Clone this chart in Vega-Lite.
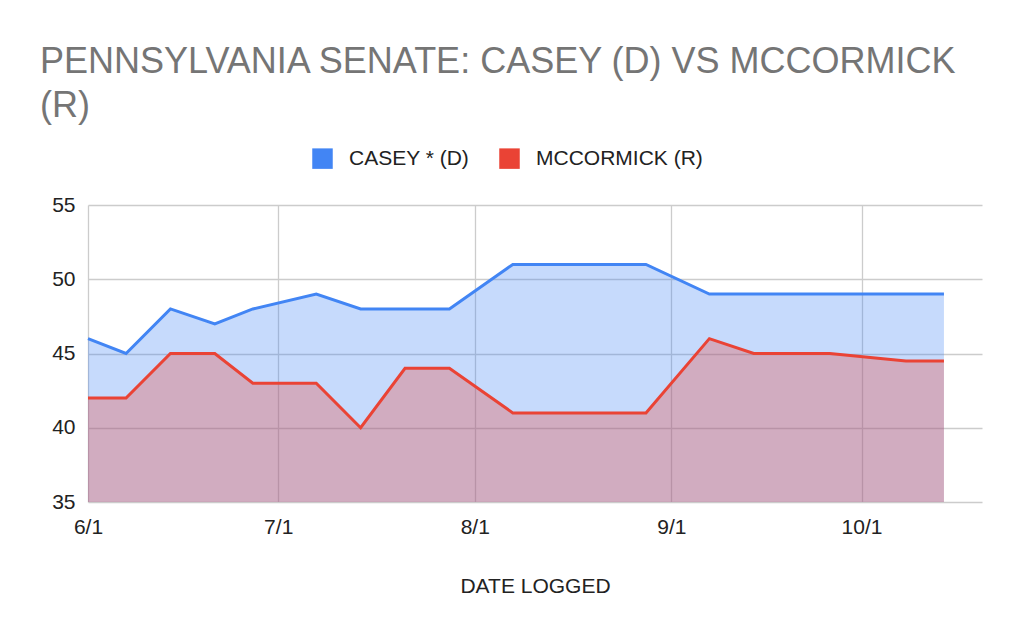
{
  "$schema": "https://vega.github.io/schema/vega-lite/v6.json",
  "autosize": {"type": "none"},
  "width": 894,
  "height": 297,
  "padding": {"left": 88, "top": 205, "right": 33, "bottom": 127},
  "background": "white",
  "config": {
    "font": "Liberation Sans",
    "view": {"stroke": null},
    "axis": {"gridColor": "#cccccc", "gridWidth": 1.3, "domain": false, "ticks": false, "labelFont": "Liberation Sans", "labelFontSize": 21, "labelColor": "#222222", "titleFont": "Liberation Sans", "titleFontSize": 21, "titleFontWeight": "normal", "titleColor": "#222222"}
  },
  "title": {
    "text": ["PENNSYLVANIA SENATE: CASEY (D) VS MCCORMICK", "(R)"],
    "anchor": "start",
    "frame": "group",
    "font": "Liberation Sans",
    "fontSize": 36,
    "fontWeight": "normal",
    "color": "#757575",
    "lineHeight": 44,
    "dx": -48,
    "dy": 7,
    "offset": 30
  },
  "data": {
    "values": [
      {"date": "2024-06-01", "candidate": "CASEY * (D)", "pct": 46},
      {"date": "2024-06-07", "candidate": "CASEY * (D)", "pct": 45},
      {"date": "2024-06-14", "candidate": "CASEY * (D)", "pct": 48},
      {"date": "2024-06-21", "candidate": "CASEY * (D)", "pct": 47},
      {"date": "2024-06-27", "candidate": "CASEY * (D)", "pct": 48},
      {"date": "2024-07-07", "candidate": "CASEY * (D)", "pct": 49},
      {"date": "2024-07-14", "candidate": "CASEY * (D)", "pct": 48},
      {"date": "2024-07-21", "candidate": "CASEY * (D)", "pct": 48},
      {"date": "2024-07-28", "candidate": "CASEY * (D)", "pct": 48},
      {"date": "2024-08-07", "candidate": "CASEY * (D)", "pct": 51},
      {"date": "2024-08-28", "candidate": "CASEY * (D)", "pct": 51},
      {"date": "2024-09-07", "candidate": "CASEY * (D)", "pct": 49},
      {"date": "2024-09-14", "candidate": "CASEY * (D)", "pct": 49},
      {"date": "2024-09-26", "candidate": "CASEY * (D)", "pct": 49},
      {"date": "2024-10-08", "candidate": "CASEY * (D)", "pct": 49},
      {"date": "2024-10-14", "candidate": "CASEY * (D)", "pct": 49},
      {"date": "2024-06-01", "candidate": "MCCORMICK (R)", "pct": 42},
      {"date": "2024-06-07", "candidate": "MCCORMICK (R)", "pct": 42},
      {"date": "2024-06-14", "candidate": "MCCORMICK (R)", "pct": 45},
      {"date": "2024-06-21", "candidate": "MCCORMICK (R)", "pct": 45},
      {"date": "2024-06-27", "candidate": "MCCORMICK (R)", "pct": 43},
      {"date": "2024-07-07", "candidate": "MCCORMICK (R)", "pct": 43},
      {"date": "2024-07-14", "candidate": "MCCORMICK (R)", "pct": 40},
      {"date": "2024-07-21", "candidate": "MCCORMICK (R)", "pct": 44},
      {"date": "2024-07-28", "candidate": "MCCORMICK (R)", "pct": 44},
      {"date": "2024-08-07", "candidate": "MCCORMICK (R)", "pct": 41},
      {"date": "2024-08-28", "candidate": "MCCORMICK (R)", "pct": 41},
      {"date": "2024-09-07", "candidate": "MCCORMICK (R)", "pct": 46},
      {"date": "2024-09-14", "candidate": "MCCORMICK (R)", "pct": 45},
      {"date": "2024-09-26", "candidate": "MCCORMICK (R)", "pct": 45},
      {"date": "2024-10-08", "candidate": "MCCORMICK (R)", "pct": 44.5},
      {"date": "2024-10-14", "candidate": "MCCORMICK (R)", "pct": 44.5}
    ]
  },
  "encoding": {
    "x": {
      "field": "date",
      "type": "temporal",
      "scale": {"type": "utc", "domain": [{"year": 2024, "month": 6, "date": 1, "utc": true}, {"year": 2024, "month": 10, "date": 20, "utc": true}]},
      "axis": {
        "title": "DATE LOGGED",
        "format": "%-m/%-d",
        "values": [
          {"year": 2024, "month": 6, "date": 1, "utc": true},
          {"year": 2024, "month": 7, "date": 1, "utc": true},
          {"year": 2024, "month": 8, "date": 1, "utc": true},
          {"year": 2024, "month": 9, "date": 1, "utc": true},
          {"year": 2024, "month": 10, "date": 1, "utc": true}
        ],
        "labelPadding": 14,
        "titlePadding": 38,
        "labelFlush": false,
        "labelOverlap": false
      }
    },
    "y": {
      "field": "pct",
      "type": "quantitative",
      "scale": {"domain": [35, 55], "zero": false, "nice": false},
      "axis": {"title": null, "values": [35, 40, 45, 50, 55], "labelPadding": 13}
    },
    "color": {
      "field": "candidate",
      "type": "nominal",
      "sort": ["CASEY * (D)", "MCCORMICK (R)"],
      "scale": {"domain": ["CASEY * (D)", "MCCORMICK (R)"], "range": ["#4285F4", "#EA4335"]},
      "legend": {
        "title": null,
        "orient": "none",
        "direction": "horizontal",
        "legendX": 224,
        "legendY": -57,
        "symbolType": "square",
        "symbolSize": 420,
        "symbolOpacity": 1,
        "symbolStrokeWidth": 0,
        "labelFont": "Liberation Sans",
        "labelFontSize": 21,
        "labelColor": "#222222",
        "labelLimit": 400,
        "labelOffset": 16,
        "columnPadding": 29
      }
    }
  },
  "layer": [
    {
      "mark": {"type": "area", "opacity": 0.3, "interpolate": "linear"},
      "encoding": {"y2": {"datum": 35}}
    },
    {
      "mark": {"type": "line", "strokeWidth": 3, "interpolate": "linear"}
    }
  ]
}
